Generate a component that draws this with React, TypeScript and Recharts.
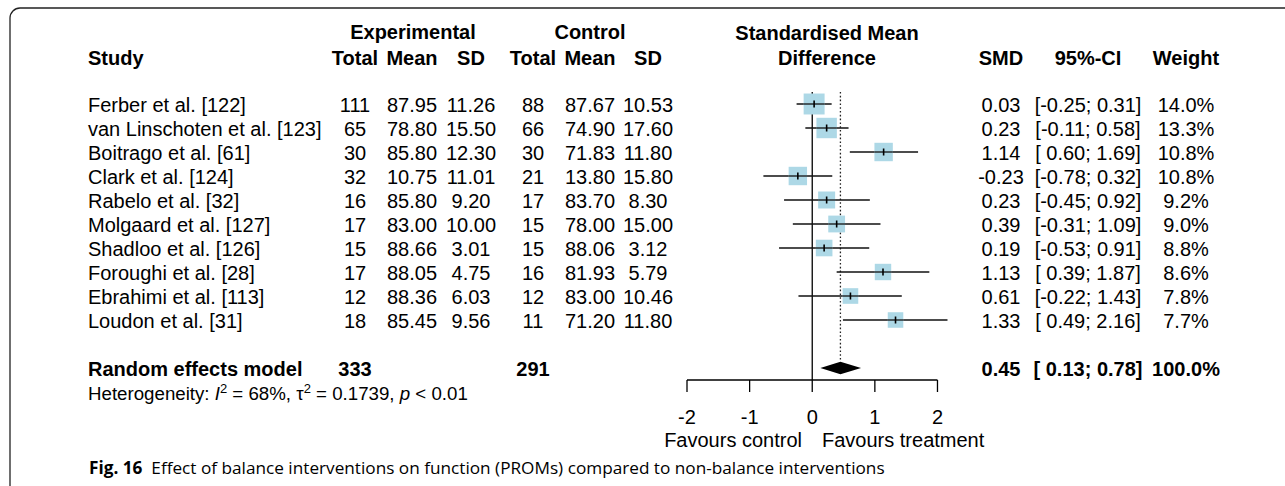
import React from 'react';
import { ComposedChart, Scatter, XAxis, YAxis, ErrorBar, ReferenceLine, ReferenceArea } from 'recharts';

// study rows
const studies = [
  'Ferber et al. [122]',
  'van Linschoten et al. [123]',
  'Boitrago et al. [61]',
  'Clark et al. [124]',
  'Rabelo et al. [32]',
  'Molgaard et al. [127]',
  'Shadloo et al. [126]',
  'Foroughi et al. [28]',
  'Ebrahimi et al. [113]',
  'Loudon et al. [31]',
];
const expTotal = [111, 65, 30, 32, 16, 17, 15, 17, 12, 18];
const expMean = [87.95, 78.8, 85.8, 10.75, 85.8, 83.0, 88.66, 88.05, 88.36, 85.45];
const expSd = [11.26, 15.5, 12.3, 11.01, 9.2, 10.0, 3.01, 4.75, 6.03, 9.56];
const ctrlTotal = [88, 66, 30, 21, 17, 15, 15, 16, 12, 11];
const ctrlMean = [87.67, 74.9, 71.83, 13.8, 83.7, 78.0, 88.06, 81.93, 83.0, 71.2];
const ctrlSd = [10.53, 17.6, 11.8, 15.8, 8.3, 15.0, 3.12, 5.79, 10.46, 11.8];
const smd = [0.03, 0.23, 1.14, -0.23, 0.23, 0.39, 0.19, 1.13, 0.61, 1.33];
const ciLow = [-0.25, -0.11, 0.6, -0.78, -0.45, -0.31, -0.53, 0.39, -0.22, 0.49];
const ciHigh = [0.31, 0.58, 1.69, 0.32, 0.92, 1.09, 0.91, 1.87, 1.43, 2.16];
const weight = [14.0, 13.3, 10.8, 10.8, 9.2, 9.0, 8.8, 8.6, 7.8, 7.7];

// random effects model
const pooledSmd = 0.45;
const pooledLow = 0.13;
const pooledHigh = 0.78;
const pooledExpN = 333;
const pooledCtrlN = 291;
const hetI2 = 68;
const hetTau2 = 0.1739;
const hetP = '< 0.01';

const xTicks = [-2, -1, 0, 1, 2];

const FONT = '"Liberation Sans", Arial, sans-serif';
const SUMMARY_ROW = 12;
const DIAMOND_H = 0.26;
const SQUARE_K = 5.6;

const rows = studies.map((s, i) => ({
  name: s,
  x: smd[i],
  y: i + 1,
  err: [smd[i] - ciLow[i], ciHigh[i] - smd[i]],
  w: weight[i],
}));

const f2 = (v: number) => v.toFixed(2);
const fmtCi = (lo: number, hi: number) => `[${lo < 0 ? '' : ' '}${f2(lo)}; ${f2(hi)}]`;

const renderSquare = (props: any) => {
  const { cx, cy, payload } = props;
  const s = SQUARE_K * Math.sqrt(payload.w);
  return (
    <g>
      <rect x={cx - s / 2} y={cy - s / 2} width={s} height={s} fill="#ADD8E6" />
      <line x1={cx - s / 2} x2={cx + s / 2} y1={cy} y2={cy} stroke="#111" strokeWidth={1.3} />
      <line x1={cx} x2={cx} y1={cy - 3.5} y2={cy + 3.5} stroke="#000" strokeWidth={1.6} />
    </g>
  );
};

const renderDiamond = (p: any) => {
  const left = p.width < 0 ? p.x + p.width : p.x;
  const top = p.height < 0 ? p.y + p.height : p.y;
  const w = Math.abs(p.width);
  const h = Math.abs(p.height);
  const ex = left + (w * (pooledSmd - pooledLow)) / (pooledHigh - pooledLow);
  const pts = `${left},${top + h / 2} ${ex},${top} ${left + w},${top + h / 2} ${ex},${top + h}`;
  return <polygon points={pts} fill="#000" />;
};

// table columns (centres)
const COL = { eT: 355, eM: 412, eS: 471, cT: 533, cM: 590, cS: 648, smd: 1001, ci: 1088, w: 1186 };
const rowY = (i: number) => 105 + i * 24;

const T = ({ x, y, anchor = 'middle', bold = false, size = 20, children }: any) => (
  <text
    x={x}
    y={y}
    dy="0.35em"
    textAnchor={anchor}
    fontWeight={bold ? 'bold' : 'normal'}
    fontSize={size}
    xmlSpace="preserve"
    style={{ whiteSpace: 'pre' }}
  >
    {children}
  </text>
);

const Table = () => (
  <svg
    width={1285}
    height={486}
    style={{ position: 'absolute', left: 0, top: 0, pointerEvents: 'none' }}
    fontFamily={FONT}
    fill="#000"
  >
    <path d="M 10 486 L 10 18 A 10 10 0 0 1 20 8 L 1285 8" fill="none" stroke="#222" strokeWidth={1.3} />

    {/* headers */}
    <T x={413} y={32} bold>Experimental</T>
    <T x={590} y={32} bold>Control</T>
    <T x={827} y={33} bold>Standardised Mean</T>
    <T x={88} y={58} anchor="start" bold>Study</T>
    <T x={COL.eT} y={58} bold>Total</T>
    <T x={COL.eM} y={58} bold>Mean</T>
    <T x={COL.eS} y={58} bold>SD</T>
    <T x={COL.cT} y={58} bold>Total</T>
    <T x={COL.cM} y={58} bold>Mean</T>
    <T x={COL.cS} y={58} bold>SD</T>
    <T x={827} y={58} bold>Difference</T>
    <T x={COL.smd} y={58} bold>SMD</T>
    <T x={COL.ci} y={58} bold>95%-CI</T>
    <T x={COL.w} y={58} bold>Weight</T>

    {studies.map((s, i) => (
      <g key={s}>
        <T x={88} y={rowY(i)} anchor="start">{s}</T>
        <T x={COL.eT} y={rowY(i)}>{expTotal[i]}</T>
        <T x={COL.eM} y={rowY(i)}>{f2(expMean[i])}</T>
        <T x={COL.eS} y={rowY(i)}>{f2(expSd[i])}</T>
        <T x={COL.cT} y={rowY(i)}>{ctrlTotal[i]}</T>
        <T x={COL.cM} y={rowY(i)}>{f2(ctrlMean[i])}</T>
        <T x={COL.cS} y={rowY(i)}>{f2(ctrlSd[i])}</T>
        <T x={COL.smd} y={rowY(i)}>{f2(smd[i])}</T>
        <T x={COL.ci} y={rowY(i)}>{fmtCi(ciLow[i], ciHigh[i])}</T>
        <T x={COL.w} y={rowY(i)}>{`${weight[i].toFixed(1)}%`}</T>
      </g>
    ))}

    {/* summary */}
    <T x={88} y={369} anchor="start" bold>Random effects model</T>
    <T x={COL.eT} y={369} bold>{pooledExpN}</T>
    <T x={COL.cT} y={369} bold>{pooledCtrlN}</T>
    <T x={COL.smd} y={369} bold>{f2(pooledSmd)}</T>
    <T x={COL.ci} y={369} bold>{fmtCi(pooledLow, pooledHigh)}</T>
    <T x={COL.w} y={369} bold>100.0%</T>

    <text x={88} y={393} dy="0.35em" fontSize={18.7} xmlSpace="preserve" style={{ whiteSpace: 'pre' }}>
      {'Heterogeneity: '}
      <tspan fontStyle="italic">I</tspan>
      <tspan dy={-7} fontSize={13}>2</tspan>
      <tspan dy={7}>{` = ${hetI2}%, τ`}</tspan>
      <tspan dy={-7} fontSize={13}>2</tspan>
      <tspan dy={7}>{` = ${hetTau2}, `}</tspan>
      <tspan fontStyle="italic">p</tspan>
      {` ${hetP}`}
    </text>

    <T x={802} y={440} anchor="end">Favours control</T>
    <T x={822} y={440} anchor="start">Favours treatment</T>

    <text x={89} y={468} dy="0.35em" fontSize={17.2} fontFamily='"Open Sans", "Noto Sans", sans-serif' xmlSpace="preserve" style={{ whiteSpace: 'pre' }}>
      <tspan fontWeight="bold">Fig. 16</tspan>
      {'  Effect of balance interventions on function (PROMs) compared to non-balance interventions'}
    </text>
  </svg>
);

export default function App() {
  return (
    <div style={{ position: 'absolute', left: 0, top: 0, width: 1285, height: 486, background: '#fff' }}>
      <ComposedChart
        width={1285}
        height={486}
        data={rows}
        margin={{ top: 92, right: 335, bottom: 46, left: 687 }}
      >
        <XAxis
          type="number"
          dataKey="x"
          domain={[-2, 2.2]}
          ticks={xTicks}
          interval={0}
          axisLine={false}
          tickSize={12}
          tickMargin={18}
          height={60}
          tick={{ fontSize: 20, fill: '#000', fontFamily: FONT }}
          tickLine={{ stroke: '#000', strokeWidth: 1.3 }}
        />
        <YAxis type="number" dataKey="y" domain={[0.5, 12.5]} reversed hide width={0} />
        <ReferenceLine
          segment={[{ x: -2, y: 12.5 }, { x: 2, y: 12.5 }]}
          stroke="#000"
          strokeWidth={1.3}
          ifOverflow="visible"
        />
        <ReferenceLine
          segment={[{ x: 0, y: 0.5 }, { x: 0, y: 12.5 }]}
          stroke="#000"
          strokeWidth={1.3}
          ifOverflow="visible"
        />
        <ReferenceLine
          segment={[{ x: pooledSmd, y: 0.5 }, { x: pooledSmd, y: SUMMARY_ROW - DIAMOND_H }]}
          stroke="#222"
          strokeWidth={1.3}
          strokeDasharray="1.6 2.2"
          ifOverflow="visible"
        />
        <Scatter data={rows} isAnimationActive={false} shape={renderSquare}>
          <ErrorBar dataKey="err" direction="x" width={0} stroke="#111" strokeWidth={1.3} />
        </Scatter>
        <ReferenceArea
          x1={pooledLow}
          x2={pooledHigh}
          y1={SUMMARY_ROW - DIAMOND_H}
          y2={SUMMARY_ROW + DIAMOND_H}
          ifOverflow="visible"
          shape={renderDiamond}
        />
      </ComposedChart>
      <Table />
    </div>
  );
}
